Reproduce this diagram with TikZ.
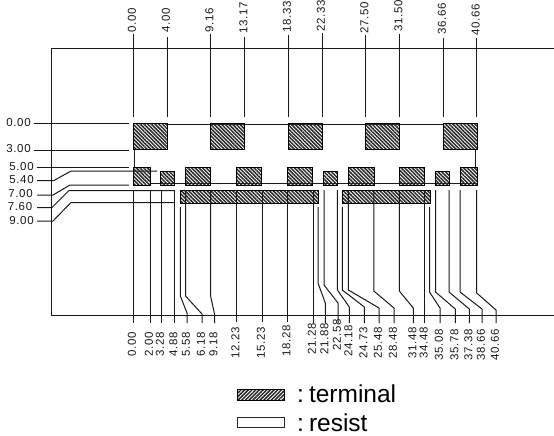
\documentclass[tikz,border=0pt]{standalone}
\usepackage{fontspec}
\setmainfont{Liberation Sans}
\newfontfamily\dimfont[LetterSpace=6]{Liberation Sans}
\usetikzlibrary{patterns.meta}
\tikzset{
  hatchbox/.style={draw=black,line width=1pt,inner sep=0pt,outer sep=0pt,anchor=north west,
     pattern={Lines[angle=-45,distance=2.6pt,line width=1.5pt]},pattern color=black!85},
  leghatch/.style={hatchbox,pattern={Lines[angle=45,distance=2.6pt,line width=1.5pt]},pattern color=black!85},
  openbox/.style={draw=black!85,line width=1pt,inner sep=0pt,outer sep=0pt,anchor=north west,fill=white},
  wire/.style={draw=black!90,line width=1pt},
  dim/.style={font=\dimfont\fontsize{11.5}{13}\selectfont,inner sep=0pt,text=black!90},
  legendtext/.style={font=\fontsize{24.5}{26}\selectfont,inner sep=0pt,anchor=base west,text=black},
}
\begin{document}
\begin{tikzpicture}[x=1pt,y=-1pt]
\useasboundingbox (0,0) rectangle (554,436);
% frame
\coordinate (fr) at (554,49); \coordinate (fl) at (51,49); \coordinate (bl) at (51,315); \coordinate (br) at (554,315);
\draw[wire] (fr) -- (fl) -- (bl) -- (br);
% wires behind terminals
\draw[wire] (167,124.7) -- (443,124.7);
\draw[wire] (150,183.5) -- (477,183.5);
\draw[wire] (134.7,150) -- (134.7,167.3);
\draw[wire] (475.5,150) -- (475.5,167.3);
% top dimension labels and lines
\foreach \n/\x/\s/\yc/\t in {a/133/34/20/0.00,b/167/37/20/4.00,c/210.5/34/20/9.16,d/244.3/37/18/13.17,e/288/35/17/18.33,f/322/33/16/22.33,g/365.5/35/18/27.50,h/399.5/34/16/31.50,i/443/38/19/36.66,j/476.7/38/20/40.66}{
  \node[dim,rotate=90] (top\n) at (\x-1,\yc) {\t};
  \coordinate (tl\n) at (\x,\s); \coordinate (te\n) at (\x,117);
  \draw[wire] (tl\n) -- (te\n);
}
% left dimension labels
\foreach \n/\y/\xc/\t in {a/122.7/18.5/0.00,b/148.7/18.5/3.00,c/166.5/21.5/5.00,d/180/21.5/5.40,e/194/20.5/7.00,f/207/20/7.60,g/220.5/21.5/9.00}{
  \node[dim] (left\n) at (\xc,\y) {\t};
}
\draw[wire] (34,123) -- (129,123);
\draw[wire] (34,150) -- (129,150);
\draw[wire] (37,167.5) -- (129,167.5);
\draw[wire] (37,180.5) -- (54,180.5) -- (71,171) -- (157,171);
\draw[wire] (37,195) -- (53,195) -- (70,185) -- (129,185);
\draw[wire] (37,207.5) -- (52,207.5) -- (69,190.5) -- (175,190.5);
\draw[wire] (37,221) -- (53,221) -- (71,202.5) -- (175,202.5);
% terminals
\foreach \n/\x in {1/133,2/210.5,3/288,4/365.5,5/443}{
  \node[hatchbox,minimum width=34pt,minimum height=26.7pt] (big\n) at (\x,123) {};
}
\foreach \n/\x/\w in {1/133/17,3/185.2/25.4,4/236.4/25.4,5/287.5/25.4,7/348.4/25.6,8/399.3/25.4,10/460/17}{
  \node[hatchbox,minimum width=\w pt,minimum height=18pt] (mid\n) at (\x,167.3) {};
}
\foreach \n/\x in {2/160.7,6/323.9,9/435.5}{
  \node[hatchbox,minimum width=13.6pt,minimum height=14.3pt] (mid\n) at (\x,171) {};
}
\node[hatchbox,minimum width=138pt,minimum height=12.7pt] (bar1) at (180.3,190.3) {};
\node[hatchbox,minimum width=88pt,minimum height=12.7pt] (bar2) at (342.3,190.3) {};
% bottom: straight leaders
\foreach \n/\x/\s/\e/\yc/\t in {a/133/190/323/344/0.00,b/150/190/323/344/2.00,c/161/190/323/344/3.28,d/174.3/190/323/344/4.88,h/236.5/190/322/343/12.23,i/262/190/322/343/15.23,j/287.5/190/322/341/18.28,k/313/190/323/339/21.28,v/424.7/190/323/343/34.48}{
  \coordinate (bs\n) at (\x,\s); \coordinate (be\n) at (\x,\e);
  \draw[wire] (bs\n) -- (be\n);
  \node[dim,rotate=90] (bot\n) at (\x-1,\yc) {\t};
}
% bottom: jogged leaders
\foreach \n/\x/\s/\ya/\xb/\yb/\yc/\t in {e/180.3/207/296/187/313/344/5.58,f/185.5/190/296/202/314/344/6.18,g/210.6/190/296/214.5/314/344/9.18,l/318/207/283/325.3/303/339/21.88,m/324/190/285/338/303/335/22.58,n/337.4/190/290/349.3/307/341/24.18,o/342.3/207/290/364.3/307/343/24.73,p/348.4/190/290/379/308/343/25.48,q/373.8/190/291/394/308/343/28.48,r/399.3/190/291/413.3/308/343/31.48,s/429.5/207/292/440/308/345/35.08,t/435.5/190/292/455.3/309/345/35.78,u/449/190/292/469.3/309/345/37.38,w/460/190/292/482/309/345/38.66,x/476.7/190/293/496/310/345/40.66}{
  \coordinate (bs\n) at (\x,\s); \coordinate (bm\n) at (\x,\ya); \coordinate (bk\n) at (\xb,\yb); \coordinate (be\n) at (\xb,323);
  \draw[wire] (bs\n) -- (bm\n) -- (bk\n) -- (be\n);
  \node[dim,rotate=90] (bot\n) at (\xb-1,\yc) {\t};
}
% legend
\node[leghatch,minimum width=46.5pt,minimum height=10.7pt] (legterm) at (237.5,389.3) {};
\node[openbox,minimum width=46.5pt,minimum height=10.7pt] (legres) at (237.5,417) {};
\node[legendtext] (termtext) at (297,402) {:\hspace{5pt}terminal};
\node[legendtext] (restext) at (297,431) {:\hspace{5pt}resist};
\end{tikzpicture}
\end{document}
